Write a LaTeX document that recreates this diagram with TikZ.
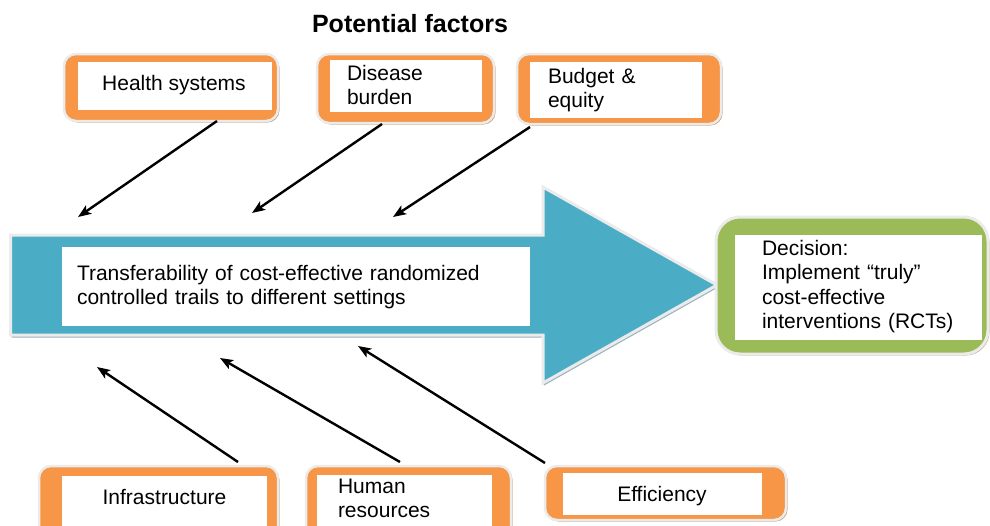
\documentclass[tikz,border=0pt]{standalone}
\usepackage{fontspec}
\setmainfont{Liberation Sans}
\usetikzlibrary{shadows,arrows.meta}
\definecolor{orangeF}{HTML}{F79646}
\definecolor{blueF}{HTML}{4BACC6}
\definecolor{greenF}{HTML}{9BBB59}
\definecolor{edgegray}{HTML}{EBEBEB}
\definecolor{shadowtan}{HTML}{C9A584}
\definecolor{shadowblue}{HTML}{98B2BF}
\begin{document}
\begin{tikzpicture}[x=1pt,y=-1pt,
  every node/.style={inner sep=0pt, outer sep=0pt},
  obox/.style={draw=edgegray, line width=2.5pt, fill=orangeF, rounded corners=12pt,
    anchor=north west,
    drop shadow={fill=shadowtan, opacity=1, shadow xshift=1.5pt, shadow yshift=-1.5pt}},
  gbox/.style={obox, fill=greenF, rounded corners=24pt, line width=3pt},
  wbox/.style={fill=white, anchor=north west},
  lbl/.style={font=\fontsize{21}{24.5}\selectfont, text=black},
  llbl/.style={lbl, text width=300pt, align=left, anchor=base west},
  conn/.style={line width=2.4pt, -{Stealth[length=13pt,width=10pt,inset=3pt]}}
]
\useasboundingbox (0,0) rectangle (990,525);
\clip (0,0) rectangle (990,525);

% title
\node[font=\fontsize{25}{30}\selectfont\bfseries, anchor=base] (title) at (410,32) {Potential factors};

% big arrow
\path[fill=blueF, draw=edgegray, line width=3pt, line join=miter,
  drop shadow={fill=shadowblue, opacity=1, shadow xshift=1pt, shadow yshift=-2.5pt}]
  (10.5,235) -- (543,235) -- (543,187) -- (717,285) -- (543,383) -- (543,335) -- (10.5,335) -- cycle;
\node[wbox, minimum width=468pt, minimum height=79pt] (mainbox) at (62,247) {};
\node[llbl, text width=460pt] (maintext) at (77,280)
  {Transferability of cost-effective randomized\\controlled trails to different settings};

% decision
\node[gbox, minimum width=272pt, minimum height=137pt] (dec) at (716,217) {};
\node[wbox, minimum width=247pt, minimum height=105pt] (decin) at (735,235) {};
\node[llbl] (dectext) at (762,255)
  {Decision:\\Implement “truly”\\cost-effective\\interventions (RCTs)};

% top boxes
\node[obox, minimum width=214pt, minimum height=67pt] (hs) at (64,54) {};
\node[wbox, minimum width=194pt, minimum height=48pt] (hsin) at (78,62) {};
\node[lbl, anchor=base] (hstext) at (174,90) {Health systems};

\node[obox, minimum width=177pt, minimum height=69pt] (db) at (317,54) {};
\node[wbox, minimum width=152pt, minimum height=52pt] (dbin) at (330,60) {};
\node[llbl] (dbtext) at (347,80) {Disease\\burden};

\node[obox, minimum width=204pt, minimum height=70pt] (be) at (517,54) {};
\node[wbox, minimum width=172pt, minimum height=56pt] (bein) at (530,62) {};
\node[llbl] (betext) at (548,83) {Budget \&\\equity};

% bottom boxes
\node[obox, minimum width=239pt, minimum height=80pt] (inf) at (39,466) {};
\node[wbox, minimum width=205pt, minimum height=60pt] (infin) at (62,476) {};
\node[lbl, anchor=base] (inftext) at (164.5,504) {Infrastructure};

\node[obox, minimum width=205pt, minimum height=80pt] (hr) at (306,466) {};
\node[wbox, minimum width=175pt, minimum height=60pt] (hrin) at (317,475) {};
\node[llbl] (hrtext) at (338,493) {Human\\resources};

\node[obox, minimum width=241pt, minimum height=54pt] (eff) at (545,466) {};
\node[wbox, minimum width=199pt, minimum height=42pt] (effin) at (563,473) {};
\node[lbl, anchor=base] (efftext) at (662,501) {Efficiency};

% arrow tips
\coordinate (t1) at (78,217);
\coordinate (t2) at (252,213);
\coordinate (t3) at (393,217);
\coordinate (b1) at (97,367);
\coordinate (b2) at (220,358);
\coordinate (b3) at (358,346);

\draw[conn] ([xshift=46pt]hs.south) -- (t1);
\draw[conn] ([xshift=-23.5pt,yshift=-1pt]db.south) -- (t2);
\draw[conn] ([xshift=13pt,yshift=-3pt]be.south west) -- (t3);
\draw[conn] ([xshift=79.5pt,yshift=4pt]inf.north) -- (b1);
\draw[conn] ([xshift=-8.5pt,yshift=4pt]hr.north) -- (b2);
\draw[conn] ([yshift=3pt]eff.north west) -- (b3);
\end{tikzpicture}
\end{document}
